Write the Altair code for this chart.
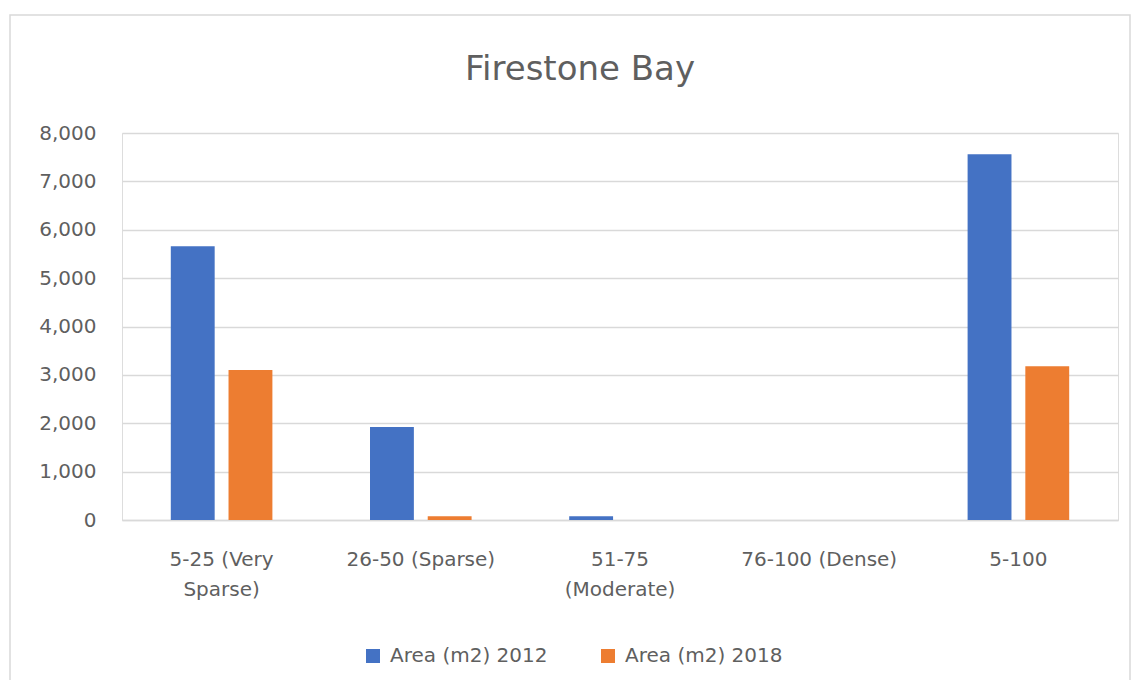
import altair as alt
import pandas as pd

categories = ["5-25 (Very Sparse)", "26-50 (Sparse)", "51-75 (Moderate)", "76-100 (Dense)", "5-100"]
series_names = ["Area (m2) 2012", "Area (m2) 2018"]
values_2012 = [5660, 1920, 75, 0, 7560]
values_2018 = [3100, 80, 0, 0, 3180]
colors = ["#4472C4", "#ED7D31"]
y_ticks = [0, 1000, 2000, 3000, 4000, 5000, 6000, 7000, 8000]

rows = []
for c, v in zip(categories, values_2012):
    rows.append({"category": c, "series": series_names[0], "value": v})
for c, v in zip(categories, values_2018):
    rows.append({"category": c, "series": series_names[1], "value": v})
df = pd.DataFrame(rows)

FONT = "DejaVu Sans"
GREY = "#5F5F5F"
FS = 20

label_expr = (
    "datum.label == '5-25 (Very Sparse)' ? ['5-25 (Very', 'Sparse)'] : "
    "datum.label == '51-75 (Moderate)' ? ['51-75', '(Moderate)'] : datum.label"
)

bars = alt.Chart(df).mark_bar().encode(
    x=alt.X(
        "category:N",
        sort=categories,
        scale=alt.Scale(paddingInner=0.49, paddingOuter=0.245),
        axis=alt.Axis(
            title=None,
            labelAngle=0,
            labelExpr=label_expr,
            labelFont=FONT,
            labelFontSize=FS,
            labelColor=GREY,
            labelPadding=29,
            labelLineHeight=30,
            ticks=False,
            domainColor="#D9D9D9",
            domainWidth=1.5,
            labelLimit=300,
        ),
    ),
    xOffset=alt.XOffset("series:N", sort=series_names, scale=alt.Scale(paddingInner=0.24)),
    y=alt.Y(
        "value:Q",
        scale=alt.Scale(domain=[0, 8000], nice=False),
        axis=alt.Axis(
            title=None,
            values=y_ticks,
            format=",.0f",
            labelFont=FONT,
            labelFontSize=FS,
            labelColor=GREY,
            labelPadding=26,
            ticks=False,
            domain=False,
            gridColor="#D9D9D9",
            gridWidth=1.5,
        ),
    ),
    color=alt.Color(
        "series:N",
        sort=series_names,
        scale=alt.Scale(domain=series_names, range=colors),
        legend=alt.Legend(
            title=None,
            orient="none",
            direction="horizontal",
            legendX=241,
            legendY=513,
            symbolType="square",
            symbolSize=196,
            symbolStrokeWidth=0,
            labelFont=FONT,
            labelFontSize=FS,
            labelColor=GREY,
            columnPadding=50,
            labelOffset=7,
        ),
    ),
)

border = alt.Chart(pd.DataFrame({"k": [0]})).mark_rect(
    fill=None, stroke="#D9D9D9", strokeWidth=1.5, clip=False
).encode(
    x=alt.value(-112), x2=alt.value(1008), y=alt.value(-118), y2=alt.value(557)
)

chart = alt.layer(border, bars).properties(
    width=996,
    height=387,
    padding={"left": 114, "top": 125, "right": 13, "bottom": 160},
    autosize=alt.AutoSizeParams(type="none"),
    title=alt.TitleParams(
        "Firestone Bay",
        font=FONT,
        fontSize=34,
        fontWeight="normal",
        color=GREY,
        anchor="middle",
        baseline="alphabetic",
        dx=-40,
        offset=-100,
    ),
).configure_view(stroke=None).configure(background="white")

chart.save("out.html", embed_options={"renderer": "svg", "actions": False})
